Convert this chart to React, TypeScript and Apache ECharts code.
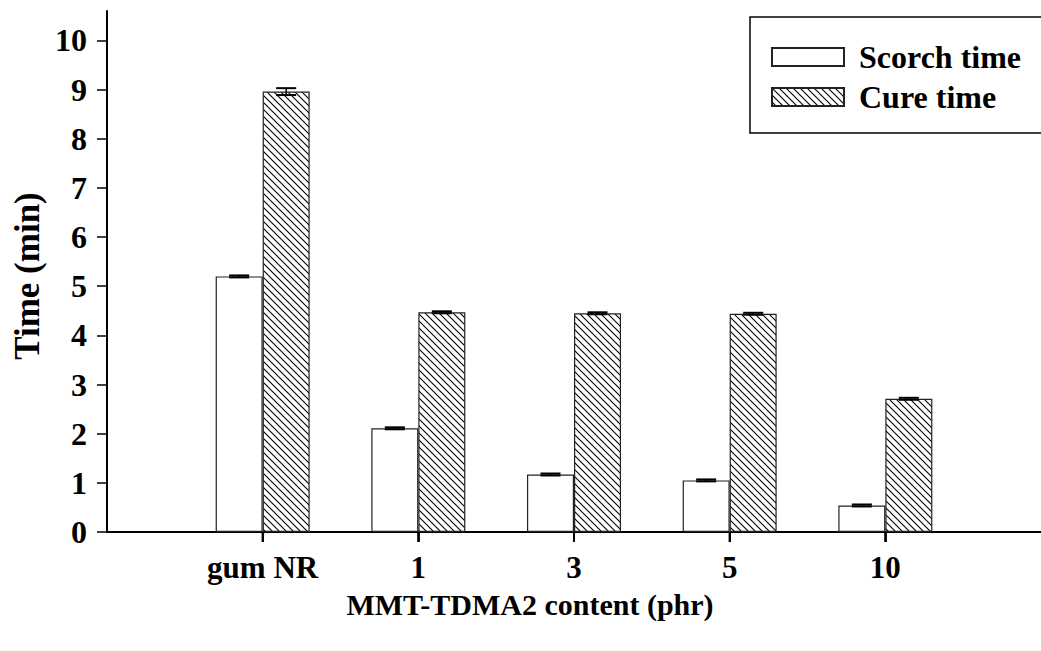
import React, { useEffect, useRef } from "react";
import * as echarts from "echarts";

const categories = ["gum NR", "1", "3", "5", "10"];
const scorchTime = [5.2, 2.11, 1.17, 1.05, 0.54];
const cureTime = [8.96, 4.47, 4.45, 4.44, 2.71];
const scorchErr = [0.02, 0.02, 0.02, 0.02, 0.02];
const cureErr = [0.07, 0.02, 0.02, 0.02, 0.02];
const yTicks = [0, 1, 2, 3, 4, 5, 6, 7, 8, 9, 10];

const FONT = "'Liberation Serif', 'Times New Roman', serif";

function makeHatch(): HTMLCanvasElement {
  const c = document.createElement("canvas");
  const s = 7;
  c.width = s;
  c.height = s;
  const ctx = c.getContext("2d")!;
  ctx.fillStyle = "#ffffff";
  ctx.fillRect(0, 0, s, s);
  ctx.strokeStyle = "#000000";
  ctx.lineWidth = 1.1;
  ctx.beginPath();
  ctx.moveTo(-1, -1);
  ctx.lineTo(s + 1, s + 1);
  ctx.moveTo(-1, s - 1);
  ctx.lineTo(1, s + 1);
  ctx.moveTo(s - 1, -1);
  ctx.lineTo(s + 1, 1);
  ctx.stroke();
  return c;
}

export default function App() {
  const ref = useRef<HTMLDivElement>(null);
  useEffect(() => {
    if (!ref.current) return;
    document.body.style.margin = "0";
    const chart = echarts.init(ref.current, null, { renderer: "svg" });
    const hatch = makeHatch();
    const BAR_W = 47;
    const xPos = categories.map((_, i) => i + 1);
    const pairs = (a: number[]) => a.map((v, i) => [xPos[i], v]);

    const errData = (vals: number[], errs: number[], offset: number) =>
      vals.map((v, i) => [xPos[i], v - errs[i], v + errs[i], offset]);

    const renderErr = (params: any, api: any) => {
      const ci = api.value(0);
      const lo = api.coord([ci, api.value(1)]);
      const hi = api.coord([ci, api.value(2)]);
      const x = lo[0] + api.value(3);
      const hw = 10;
      const st = { stroke: "#000", lineWidth: 2 };
      const base = api.coord([ci, 0]);
      return {
        type: "group",
        children: [
          { type: "line", shape: { x1: x, y1: lo[1], x2: x, y2: hi[1] }, style: { stroke: "#000", lineWidth: 1.5 } },
          { type: "line", shape: { x1: x - hw, y1: lo[1], x2: x + hw, y2: lo[1] }, style: st },
          { type: "line", shape: { x1: x - hw, y1: hi[1], x2: x + hw, y2: hi[1] }, style: st },
          { type: "line", shape: { x1: base[0], y1: base[1], x2: base[0], y2: base[1] + 10 }, style: { stroke: "#000", lineWidth: 1.8 } },
        ],
      };
    };

    chart.setOption({
      animation: false,
      backgroundColor: "#ffffff",
      grid: { left: 107, top: 11, width: 944, height: 521 },
      legend: {
        orient: "vertical",
        left: 766,
        top: 36,
        icon: "rect",
        itemWidth: 72,
        itemHeight: 18,
        itemGap: 8,
        selectedMode: false,
        data: ["Scorch time", "Cure time"],
        textStyle: { fontFamily: FONT, fontWeight: "bold", fontSize: 32, color: "#000", lineHeight: 30, padding: [0, 0, 0, 10] },
      },
      graphic: [
        { type: "rect", shape: { x: 750, y: 17, width: 320, height: 116 }, style: { fill: "none", stroke: "#000", lineWidth: 1.5 }, z: 10 },
        { type: "text", x: 530, y: 604, style: { text: "MMT-TDMA2 content (phr)", font: `bold 30px ${FONT}`, fill: "#000", align: "center", verticalAlign: "middle" } },
        { type: "text", x: 27, y: 276, rotation: Math.PI / 2, style: { text: "Time (min)", font: `bold 35px ${FONT}`, fill: "#000", align: "center", verticalAlign: "middle" } },
      ],
      xAxis: [
        {
          type: "value",
          min: 0,
          max: 6,
          interval: 1,
          axisLine: { show: true, onZero: false, lineStyle: { color: "#000", width: 2 } },
          axisTick: { show: true, inside: false, length: 10, customValues: xPos, lineStyle: { color: "#000", width: 1.8 } },
          axisLabel: {
            customValues: xPos,
            margin: 20,
            fontFamily: FONT,
            fontWeight: "bold",
            fontSize: 31,
            color: "#000",
            formatter: (v: number) => categories[Math.round(v) - 1] ?? "",
          },
          splitLine: { show: false },
        },
        {
          type: "value",
          min: 0,
          max: 6,
          position: "top",
          axisLine: { show: true, lineStyle: { color: "#000", width: 2 } },
          axisTick: { show: false },
          axisLabel: { show: false },
          splitLine: { show: false },
        },
      ],
      yAxis: {
        type: "value",
        min: 0,
        max: 10.6,
        interval: 1,
        axisLine: { show: true, onZero: false, lineStyle: { color: "#000", width: 2 } },
        axisTick: { show: true, length: 10, customValues: yTicks, lineStyle: { color: "#000", width: 1.5 } },
        axisLabel: { customValues: yTicks, margin: 20, fontFamily: FONT, fontWeight: "bold", fontSize: 32, color: "#000" },
        splitLine: { show: false },
      },
      series: [
        {
          name: "Scorch time",
          type: "bar",
          data: pairs(scorchTime),
          barWidth: BAR_W,
          barGap: "0%",
          itemStyle: { color: "#ffffff", borderColor: "#222", borderWidth: 1.2 },
        },
        {
          name: "Cure time",
          type: "bar",
          data: pairs(cureTime),
          barWidth: BAR_W,
          barGap: "0%",
          itemStyle: { color: { image: hatch, repeat: "repeat" }, borderColor: "#222", borderWidth: 1.2 },
        },
        {
          type: "custom",
          data: errData(scorchTime, scorchErr, -BAR_W / 2),
          renderItem: renderErr,
          clip: false,
          z: 5,
        },
        {
          type: "custom",
          data: errData(cureTime, cureErr, BAR_W / 2),
          renderItem: renderErr,
          clip: false,
          z: 5,
        },
      ],
    });
    return () => chart.dispose();
  }, []);
  return <div ref={ref} style={{ width: 1041, height: 651 }} />;
}
